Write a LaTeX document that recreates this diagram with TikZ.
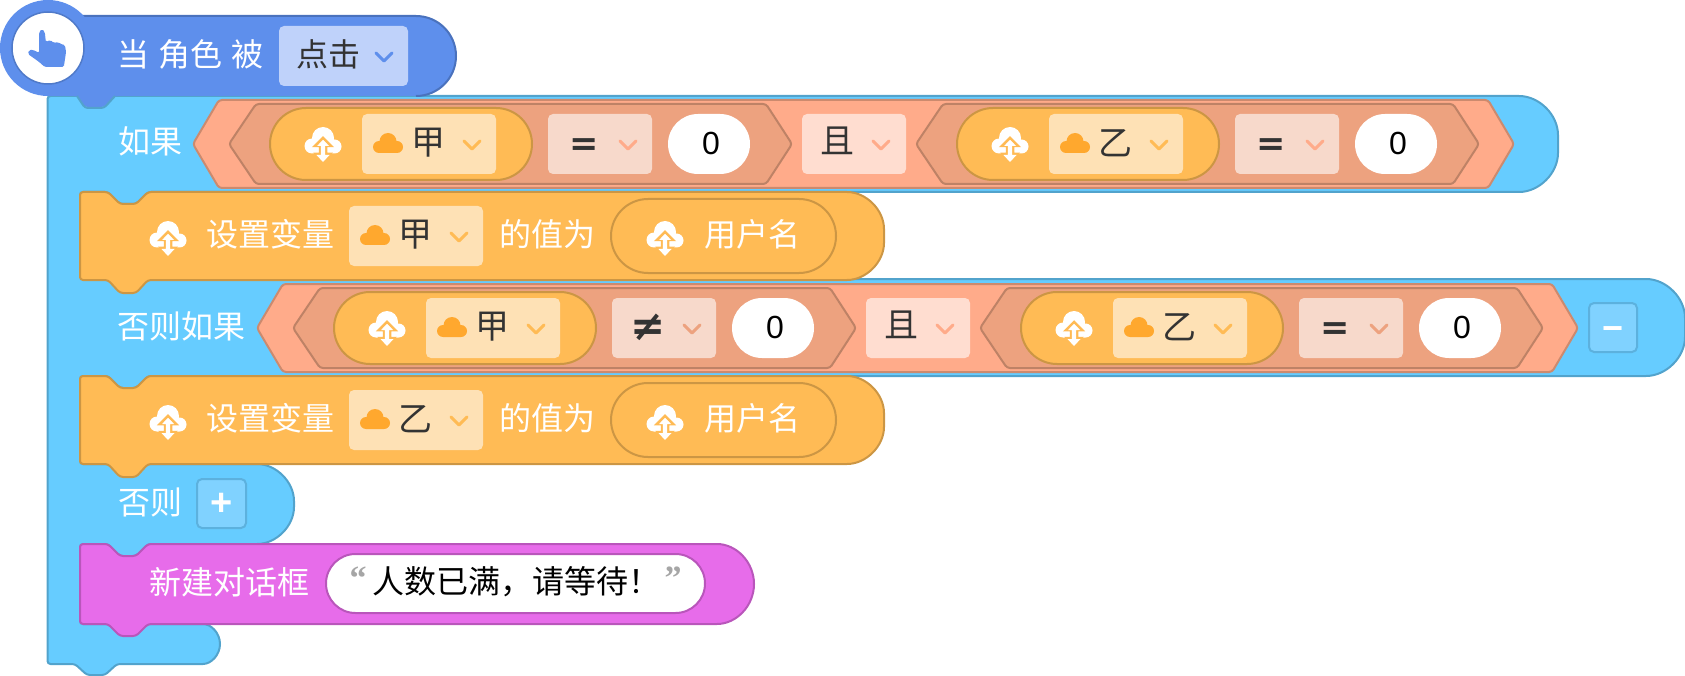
\documentclass[tikz,border=0pt]{standalone}
\usepackage{fontspec}
\newfontfamily\cjk{Noto Sans CJK SC}
\newfontfamily\lat{Liberation Sans}
\newfontfamily\qfont{Liberation Serif}
\newfontfamily\symf{DejaVu Sans}
\definecolor{hatc}{HTML}{5E8FEC}
\definecolor{hatb}{HTML}{4A72BD}
\definecolor{hatd}{HTML}{BFD2FA}
\definecolor{cblue}{HTML}{66CCFF}
\definecolor{cblueb}{HTML}{52A3CC}
\definecolor{btn}{HTML}{80D2FF}
\definecolor{btnb}{HTML}{5CB1DE}
\definecolor{org}{HTML}{FFBB55}
\definecolor{orgb}{HTML}{CC9644}
\definecolor{orgd}{HTML}{FEE1B5}
\definecolor{cloudc}{HTML}{FFA82E}
\definecolor{hexo}{HTML}{FFAB8A}
\definecolor{hexob}{HTML}{CC8A6E}
\definecolor{hexi}{HTML}{EDA27F}
\definecolor{hexib}{HTML}{BE8266}
\definecolor{opbox}{HTML}{F7D9CB}
\definecolor{andbox}{HTML}{FFDDD0}
\definecolor{pink}{HTML}{E76CEA}
\definecolor{pinkb}{HTML}{B956BB}
\definecolor{ink}{HTML}{333333}
\newcounter{nn}
\tikzset{
  lab/.style={inner sep=0pt,outer sep=0pt,anchor=center,font=\cjk\fontsize{32}{32}\selectfont},
  wt/.style={lab,text=white},
  dt/.style={lab,text=ink},
  dtb/.style={lab,text=ink,font=\cjk\fontsize{34}{34}\selectfont},
  num/.style={inner sep=0pt,anchor=center,text=black,font=\lat\fontsize{32}{32}\selectfont},
  opt/.style={inner sep=0pt,anchor=center,text=ink,yshift=-4pt,font=\symf\bfseries\fontsize{35}{35}\selectfont},
  qt/.style={inner sep=0pt,anchor=center,text=black!35,font=\qfont\bfseries\fontsize{34}{34}\selectfont},
  btnbox/.style={fill=btn,draw=btnb,line width=2pt,rounded corners=5pt},
  chevline/.style={line width=3pt,line cap=round,line join=round},
}
\newcommand{\lbl}[4]{\stepcounter{nn}\node[#1] (t\thenn) at (#2,#3) {#4};}
\newcommand{\chev}[3]{\draw[chevline,draw=#3] (#1-8,#2-4) -- (#1,#2+4) -- (#1+8,#2-4);}
\newcommand{\cloudup}[2]{\begin{scope}[shift={(#1,#2)}]
  \fill[white] (0,-5) circle[radius=11pt] (-11,3) circle[radius=7.5pt] (11.5,3.5) circle[radius=7pt] (-11,3) rectangle (11.5,10.5);
  \draw[org,line width=2.5pt,fill=white,line join=miter]
    (0,-5) -- (8,3) -- (3,3) -- (3,11) -- (7,11) -- (0,19) -- (-7,11) -- (-3,11) -- (-3,3) -- (-8,3) -- cycle;
  \fill[white] (0,-3) -- (6,3) -- (2.2,3) -- (2.2,12) -- (6.5,12) -- (0,19) -- (-6.5,12) -- (-2.2,12) -- (-2.2,3) -- (-6,3) -- cycle;
\end{scope}}
\newcommand{\smallcloud}[2]{\begin{scope}[shift={(#1,#2)}]
  \fill[cloudc] (0,-1.5) circle[radius=8.5pt] (-9,4) circle[radius=6pt] (9,4) circle[radius=6pt] (-9,2) rectangle (9,10);
\end{scope}}
\newcommand{\vardrop}[3]{% x, ymid, name
  \fill[orgd,rounded corners=5pt] (#1,#2-30) rectangle (#1+134,#2+30);
  \smallcloud{#1+26}{#2-1}
  \lbl{dtb}{#1+66}{#2-1}{#3}
  \chev{#1+110}{#2+1}{org}
}
\newcommand{\cgroup}[5]{% x pill, var, op, chev colour, op style
  \draw[fill=hexi,draw=hexib,line width=2pt,rounded corners=3pt]
    (#1-40,144) -- (#1-13,104) -- (#1+497,104) -- (#1+523,144) -- (#1+497,184) -- (#1-13,184) -- cycle;
  \draw[fill=org,draw=orgb,line width=2pt,rounded corners=36pt] (#1+1,108) rectangle (#1+263,180);
  \cloudup{#1+54}{143}
  \vardrop{#1+93}{144}{#2}
  \fill[opbox,rounded corners=5pt] (#1+279,114) rectangle (#1+383,174);
  \lbl{opt,#5}{#1+315}{143}{#3}
  \chev{#1+359}{145}{#4}
  \fill[white,rounded corners=30pt] (#1+399,114) rectangle (#1+481,174);
  \lbl{num}{#1+442}{143}{0}
}
\newcommand{\condrow}[3]{% first op, chev colour, op style
  \draw[fill=hexo,draw=hexob,line width=2pt,rounded corners=3pt]
    (193,144) -- (219,100) -- (1488,100) -- (1514,144) -- (1488,188) -- (219,188) -- cycle;
  \cgroup{269}{甲}{#1}{#2}{#3}
  \fill[andbox,rounded corners=5pt] (802,114) rectangle (906,174);
  \lbl{dtb}{837}{141}{且}
  \chev{881}{145}{hexo}
  \cgroup{956}{乙}{=}{#2}{}
}
\newcommand{\setblock}[2]{% y top, var
  \begin{scope}[shift={(0,#1)}]
  \draw[fill=org,draw=orgb,line width=2pt,rounded corners=3pt]
    (80,0) -- (108,0) -- (120,12) -- (136,12) -- (148,0) -- (844,0)
    arc[start angle=90,end angle=0,radius=40pt] -- (884,48)
    arc[start angle=0,end angle=-90,radius=40pt] -- (148,88) -- (136,101) -- (120,101) -- (108,88) -- (80,88) -- cycle;
  \cloudup{168}{45}
  \lbl{wt}{270}{42}{设置变量}
  \vardrop{349}{44}{#2}
  \lbl{wt}{547}{42}{的值为}
  \draw[draw=orgb,line width=2pt,rounded corners=37pt] (611,7) rectangle (836,81);
  \cloudup{665}{45}
  \lbl{wt}{752}{42}{用户名}
  \end{scope}
}
\begin{document}
\begin{tikzpicture}[x=1pt,y=-1pt]
\useasboundingbox (0,0) rectangle (1685,676);
% C block
\draw[fill=cblue,draw=cblueb,line width=2pt,rounded corners=3pt]
  (47.5,96) -- (1516,96) arc[start angle=90,end angle=0,radius=42pt] -- (1558,150)
  arc[start angle=0,end angle=-90,radius=42pt]
  -- (148,192) -- (136,204) -- (120,204) -- (108,192) -- (80,192) -- (80,279)
  -- (1643,279) arc[start angle=90,end angle=0,radius=42pt] -- (1685,334)
  arc[start angle=0,end angle=-90,radius=42pt]
  -- (148,376) -- (136,388) -- (120,388) -- (108,376) -- (80,376) -- (80,464)
  -- (254,464) arc[start angle=90,end angle=0,radius=40pt]
  arc[start angle=0,end angle=-90,radius=40pt]
  -- (148,544) -- (136,556) -- (120,556) -- (108,544) -- (80,544) -- (80,624)
  -- (200,624) arc[start angle=90,end angle=-90,radius=20pt]
  -- (117,664) -- (105,675) -- (87,675) -- (75,664) -- (47.5,664) -- cycle;
% hat
\fill[hatc,rounded corners=3pt] (48,16) -- (416,16) arc[start angle=90,end angle=0,radius=40pt]
  arc[start angle=0,end angle=-90,radius=40pt] -- (115,96) -- (104,107) -- (85,107) -- (77,96) -- (48,96) -- cycle;
\draw[hatb,line width=2pt] (48,16) -- (416,16) arc[start angle=90,end angle=0,radius=40pt]
  arc[start angle=0,end angle=-90,radius=40pt];
\draw[cblueb,line width=2pt,rounded corners=3pt] (115,96) -- (104,108) -- (85,108) -- (77,96);
\fill[hatc] (48,48) circle[radius=48pt];
\draw[fill=white,draw=hatc!85!black,line width=1.5pt] (48,48) circle[radius=36pt];
\begin{scope}[shift={(47,48)},xscale=1.12,shift={(-47,-48)}]
\fill[hatc,rounded corners=1.5pt] (40,32) -- (42.5,29) -- (45,32) -- (46,42) -- (50,40) -- (53,43) -- (57,42) -- (59,44) -- (63,45) -- (64,52)
  -- (62,67) -- (45,67) -- (40,62) -- (30,54) -- (31,50) -- (35,50) -- (40,53) -- cycle;
\end{scope}
\lbl{wt,execute at begin node={\spaceskip=9.5pt}}{190.5}{54}{当 角色 被}
\fill[hatd,rounded corners=5pt] (279,26) rectangle (408,86);
\lbl{dt}{328}{54}{点击}
\chev{384}{57}{hatc}
% if row
\lbl{wt}{150}{141}{如果}
\condrow{=}{hexo}{}
\setblock{192}{甲}
% else if row
\lbl{wt}{181}{326}{否则如果}
\begin{scope}[shift={(64,184)}]
\condrow{≠}{hexi}{yshift=4pt,font=\symf\bfseries\fontsize{42}{42}\selectfont}
\end{scope}
\draw[btnbox] (1589,303) rectangle (1637,352);
\lbl{inner sep=0pt,text=white,font=\lat\bfseries\fontsize{36}{36}\selectfont}{1613}{334}{−}
\setblock{376}{乙}
% else row
\lbl{wt}{150}{502}{否则}
\draw[btnbox] (197,479) rectangle (246,528);
\lbl{inner sep=0pt,text=white,font=\lat\bfseries\fontsize{38}{38}\selectfont}{222}{504}{+}
% dialog
\draw[fill=pink,draw=pinkb,line width=2pt,rounded corners=3pt]
  (80,544) -- (108,544) -- (120,556) -- (136,556) -- (148,544) -- (714,544)
  arc[start angle=90,end angle=-90,radius=40pt] -- (148,624) -- (136,636) -- (120,636) -- (108,624) -- (80,624) -- cycle;
\lbl{wt}{229}{582}{新建对话框}
\draw[fill=white,draw=pinkb,line width=2pt,rounded corners=29.5pt] (326,554) rectangle (705,613);
\lbl{qt}{358}{578}{“}
\lbl{lab,text=black}{516}{582}{人数已满，请等待！}
\lbl{qt}{673}{578}{”}
\end{tikzpicture}
\end{document}
